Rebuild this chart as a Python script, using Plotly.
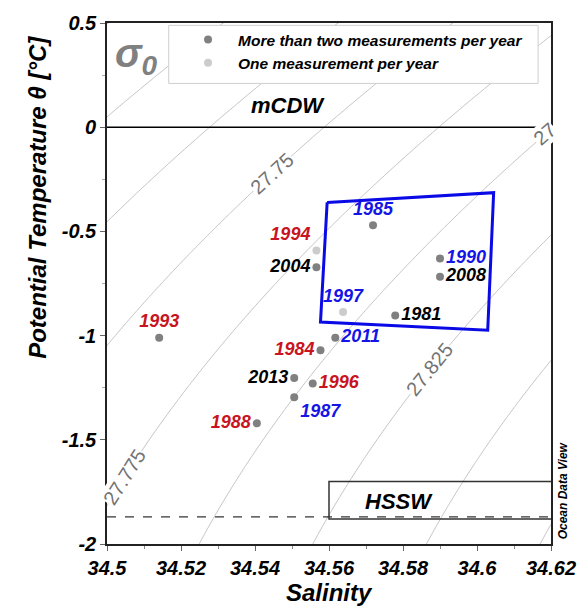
import math
import numpy as np
import plotly.graph_objects as go

# ---- station data: salinity / potential temperature per year ----
years_multi = ["1993", "1985", "2004", "1990", "2008", "1981", "2011",
               "1984", "2013", "1996", "1987", "1988"]
sal_multi = [34.5141, 34.5719, 34.5566, 34.5900, 34.5900, 34.5779, 34.5617,
             34.5577, 34.5506, 34.5556, 34.5506, 34.5405]
theta_multi = [-1.010, -0.471, -0.672, -0.630, -0.718, -0.903, -1.010,
               -1.070, -1.204, -1.230, -1.296, -1.421]

years_single = ["1994", "1997"]
sal_single = [34.5566, 34.5638]
theta_single = [-0.592, -0.887]

RED, BLUE, BLACK = "#c8141e", "#1414e6", "#000000"
label_color = {"1993": RED, "1985": BLUE, "2004": BLACK, "1990": BLUE,
               "2008": BLACK, "1981": BLACK, "2011": BLUE, "1984": RED,
               "2013": BLACK, "1996": RED, "1987": BLUE, "1988": RED,
               "1994": RED, "1997": BLUE}
label_pos = {"1993": "top center", "1985": "top center", "2004": "middle left",
             "1990": "middle right", "2008": "middle right", "1981": "middle right",
             "2011": "middle right", "1984": "middle left", "2013": "middle left",
             "1996": "middle right", "1987": "bottom right", "1988": "middle left",
             "1994": "top left", "1997": "top center"}

# ---- water mass boundaries ----
box_sal = [34.5595, 34.6045, 34.6029, 34.5577, 34.5595]
box_theta = [-0.361, -0.314, -0.974, -0.935, -0.361]
mcdw_theta = 0.0
freezing_theta = -1.87
hssw_sal = [34.62, 34.56, 34.56, 34.62]
hssw_theta = [-1.70, -1.70, -1.88, -1.88]

# axis ticks
x_ticks = [34.5, 34.52, 34.54, 34.56, 34.58, 34.6, 34.62]
x_ticktext = ["34.5", "34.52", "34.54", "34.56", "34.58", "34.6", "34.62"]
y_ticks = [0.5, 0, -0.5, -1, -1.5, -2]
y_ticktext = ["0.5", "0", "-0.5", "-1", "-1.5", "-2"]

# isopycnal labels: (sigma level, theta where the label sits, text)
iso_labels = [(27.75, -0.221, "27.75"),
              (27.775, -1.679, "27.775"),
              (27.825, -1.161, "27.825"),
              (27.8, -0.035, "27")]  # label cut by the right frame


def sigma0(S, T):
    """UNESCO EOS-80 density anomaly at the sea surface."""
    rw = (999.842594 + 6.793952e-2 * T - 9.095290e-3 * T**2 + 1.001685e-4 * T**3
          - 1.120083e-6 * T**4 + 6.536332e-9 * T**5)
    A = 8.24493e-1 - 4.0899e-3 * T + 7.6438e-5 * T**2 - 8.2467e-7 * T**3 + 5.3875e-9 * T**4
    B = -5.72466e-3 + 1.0227e-4 * T - 1.6546e-6 * T**2
    C = 4.8314e-4
    return rw + A * S + B * S**1.5 + C * S**2 - 1000.0


def salinity_on(level, T, lo=34.3, hi=34.8):
    for _ in range(60):
        mid = 0.5 * (lo + hi)
        if sigma0(mid, T) < level:
            lo = mid
        else:
            hi = mid
    return 0.5 * (lo + hi)


W, H = 588, 611
M = dict(l=107, r=34, t=21, b=67)
PW, PH = W - M["l"] - M["r"], H - M["t"] - M["b"]
XR, YR = [34.5, 34.62], [-2, 0.5]
px_per_S = PW / (XR[1] - XR[0])
px_per_T = PH / (YR[1] - YR[0])

FONT = "Liberation Sans, Arial, sans-serif"

Sg = np.linspace(34.48, 34.64, 161)
Tg = np.linspace(-2.2, 0.7, 146)
SS, TT = np.meshgrid(Sg, Tg)
Z = sigma0(SS, TT)

fig = go.Figure()
fig.add_trace(go.Contour(
    x=Sg, y=Tg, z=Z, showscale=False, showlegend=False, hoverinfo="skip",
    contours=dict(start=27.675, end=27.925, size=0.025, coloring="none", showlabels=False),
    line=dict(color="#aaaaaa", width=0.7),
))

# water mass lines
fig.add_trace(go.Scatter(x=XR, y=[mcdw_theta, mcdw_theta], mode="lines",
                         line=dict(color="black", width=1.5), showlegend=False, hoverinfo="skip"))
fig.add_trace(go.Scatter(x=XR, y=[freezing_theta, freezing_theta], mode="lines",
                         line=dict(color="black", width=1, dash="dash"), showlegend=False, hoverinfo="skip"))
fig.add_trace(go.Scatter(x=hssw_sal, y=hssw_theta, mode="lines",
                         line=dict(color="#333333", width=1.5), showlegend=False, hoverinfo="skip"))
fig.add_trace(go.Scatter(x=box_sal, y=box_theta, mode="lines",
                         line=dict(color="#0a0ae6", width=3), showlegend=False, hoverinfo="skip"))

# data points
fig.add_trace(go.Scatter(x=sal_multi, y=theta_multi, mode="markers",
                         marker=dict(color="#808080", size=8),
                         name="More than two measurements per year"))
fig.add_trace(go.Scatter(x=sal_single, y=theta_single, mode="markers",
                         marker=dict(color="#cccccc", size=8),
                         name="One measurement per year"))

# year labels
all_years = years_multi + years_single
fig.add_trace(go.Scatter(
    x=sal_multi + sal_single, y=theta_multi + theta_single, mode="markers+text",
    text=all_years, textposition=[label_pos[y] for y in all_years],
    textfont=dict(family=FONT, size=18, weight="bold", style="italic",
                  color=[label_color[y] for y in all_years]),
    marker=dict(size=8, color="rgba(0,0,0,0)"), showlegend=False, hoverinfo="skip"))

annotations = []
for level, T, txt in iso_labels:
    S = salinity_on(level, T)
    dS, dT = 1e-4, 1e-3
    gS = (sigma0(S + dS, T) - sigma0(S - dS, T)) / (2 * dS)
    gT = (sigma0(S, T + dT) - sigma0(S, T - dT)) / (2 * dT)
    slope = -gS / gT  # dT/dS along the isopycnal
    ang = -math.degrees(math.atan2(slope * px_per_T, px_per_S))
    annotations.append(dict(x=S, y=T, xref="x", yref="y", text=txt, showarrow=False,
                            xanchor="center", yanchor="middle",
                            textangle=ang, bgcolor="white", borderpad=0,
                            font=dict(family=FONT, size=20, color="#737373")))


def label(x, y, text, size, ref="paper", angle=0, color="black"):
    return dict(x=x, y=y, xref=ref if ref == "paper" else "x",
                yref=ref if ref == "paper" else "y", text=text, showarrow=False,
                xanchor="center", yanchor="middle", textangle=angle,
                font=dict(family=FONT, size=size, color=color, weight="bold", style="italic"))


annotations += [
    label(34.549, 0.105, "mCDW", 22, ref="data"),
    label(34.579, -1.798, "HSSW", 22, ref="data"),
    label(0.067, 0.937, "σ<sub>0</sub>", 40, color="#808080"),
    label(1.027, 0.103, "Ocean Data View", 12, angle=-90),
    label(-0.157, 0.665, "Potential Temperature θ [°C]", 24, angle=-90),
    label(0.5, -0.094, "Salinity", 24),
]

tickfont = dict(family=FONT, size=20, color="black", weight="bold", style="italic")
axis_common = dict(showgrid=False, zeroline=False, showline=True, mirror=True,
                   linecolor="#222222", linewidth=1.6, ticks="outside", ticklen=5,
                   tickcolor="#666666", tickfont=tickfont)

fig.update_layout(
    width=W, height=H, autosize=False, margin=M,
    plot_bgcolor="white", paper_bgcolor="white",
    xaxis=dict(range=XR, tickvals=x_ticks, ticktext=x_ticktext,
               minor=dict(dtick=0.01, ticks="outside", ticklen=3, tickcolor="#888888"),
               **axis_common),
    yaxis=dict(range=YR, tickvals=y_ticks, ticktext=y_ticktext,
               minor=dict(dtick=0.25, ticks="outside", ticklen=3, tickcolor="#aaaaaa"),
               **axis_common),
    shapes=[dict(type="rect", xref="paper", yref="paper", x0=0.139, x1=0.971,
                 y0=0.884, y1=0.9955, fillcolor="white",
                 line=dict(color="#cfcfcf", width=1), layer="above")],
    legend=dict(x=0.16, y=1.0, xanchor="left", yanchor="top", itemwidth=50,
                bgcolor="rgba(0,0,0,0)", borderwidth=0, tracegroupgap=0,
                font=dict(family=FONT, size=15.5, color="black", weight="bold", style="italic")),
    annotations=annotations,
)

fig.write_html("out.html")
